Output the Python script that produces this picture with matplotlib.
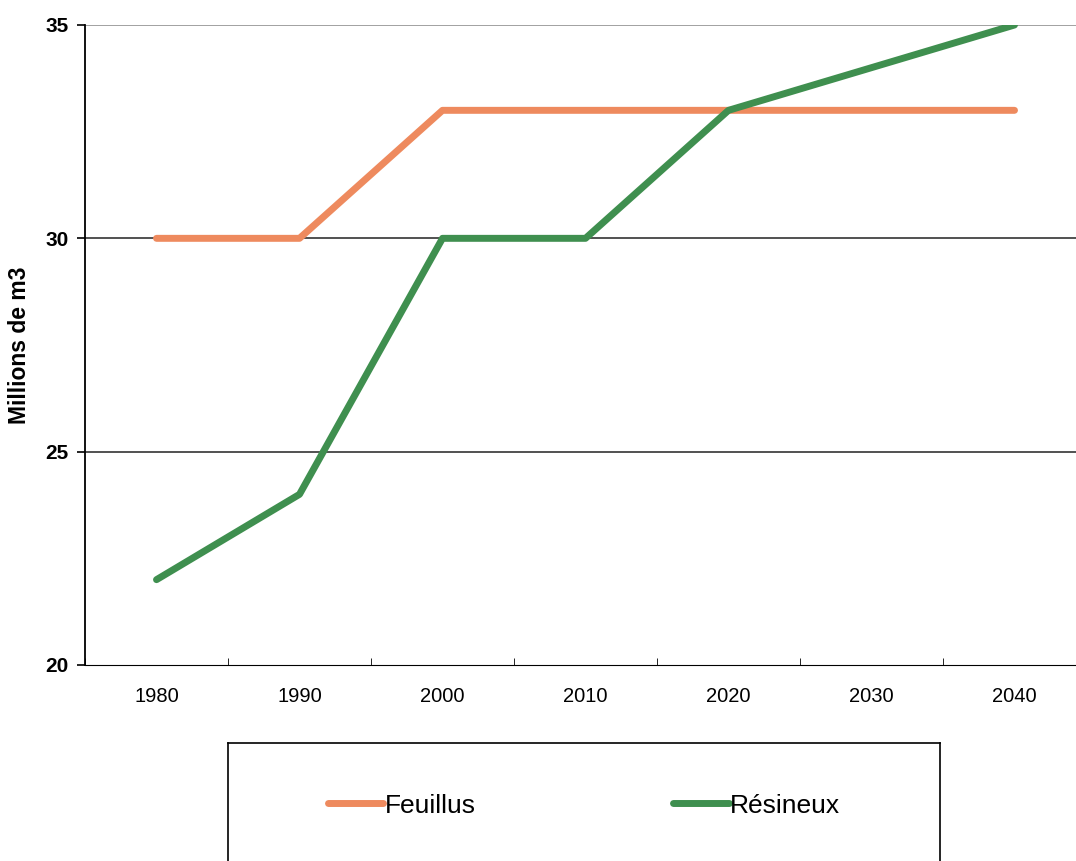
import matplotlib.pyplot as plt
import numpy as np

plt.rcParams["font.family"] = ["Liberation Sans", "DejaVu Sans"]

years = ["1980", "1990", "2000", "2010", "2020", "2030", "2040"]
feuillus = [30, 30, 33, 33, 33, 33, 33]
resineux = [22, 24, 30, 30, 33, 34, 35]

fig = plt.figure(figsize=(10.76, 8.61), dpi=100)
ax = fig.add_axes([85 / 1076, 1 - 665 / 861, 1001 / 1076, 640 / 861])

x = np.arange(len(years))
ax.plot(x, feuillus, color="#EE8A5E", lw=5, solid_capstyle="round", label="Feuillus")
ax.plot(x, resineux, color="#3F8F4F", lw=5, solid_capstyle="round", label="Résineux")

ax.set_xlim(-0.5, len(years) - 0.5)
ax.set_ylim(20, 35)
ax.set_yticks([20, 25, 30, 35])
ax.set_yticklabels(["20", "25", "30", "35"], fontsize=15, fontweight="bold")
ax.set_xticks(x)
ax.set_xticklabels(years, fontsize=14.5)
ax.set_xticks(np.arange(len(years) + 1) - 0.5, minor=True)
ax.tick_params(axis="x", which="major", length=0, pad=16)
ax.tick_params(axis="x", which="minor", length=5, direction="in")
ax.tick_params(axis="y", length=6, width=1.2, pad=6)
for y in (25, 30, 35):
    ax.axhline(y, color="#222222" if y < 35 else "#888888", lw=1.1, zorder=0)
ax.spines["top"].set_visible(False)
ax.spines["right"].set_visible(False)
ax.spines["left"].set_linewidth(1.3)
ax.set_ylabel("Millions de m3", fontsize=16.5, fontweight="bold", labelpad=10)

# legend frame, open at the bottom edge
lax = fig.add_axes([228 / 1076, 0, 712 / 1076, 118 / 861])
lax.set_xticks([])
lax.set_yticks([])
lax.spines["bottom"].set_visible(False)
for s in ("left", "top", "right"):
    lax.spines[s].set_linewidth(1.2)
handles, labels = ax.get_legend_handles_labels()
lax.legend(handles, labels, loc="center", bbox_to_anchor=(0.5, 0.47), ncol=2,
           frameon=False, fontsize=19, handlelength=2.1, handletextpad=0.05,
           columnspacing=7.5)

fig.savefig("out.png")
